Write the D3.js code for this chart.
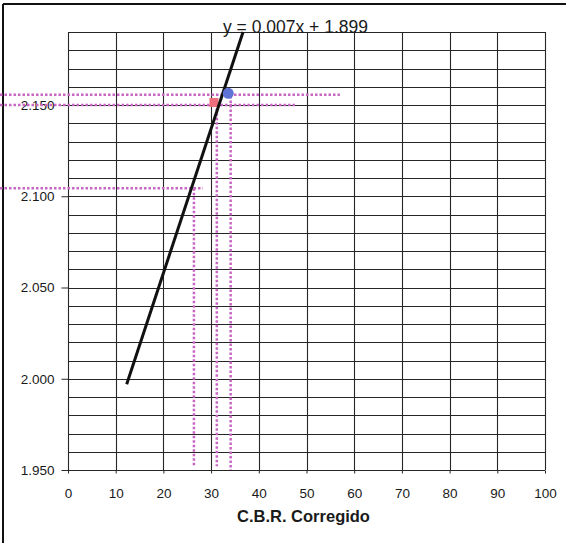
<!DOCTYPE html>
<html>
<head>
<meta charset="utf-8">
<script src="https://cdn.jsdelivr.net/npm/d3@7"></script>
<style>
  html, body { margin: 0; padding: 0; background: #fff; }
  svg { display: block; }
  text { font-family: "Liberation Sans", Arial, sans-serif; fill: #1a1a1a; }
</style>
</head>
<body>
<svg id="chart" width="566" height="543"></svg>
<script>
// C.B.R. corregido vs densidad seca
const xTickValues = [0, 10, 20, 30, 40, 50, 60, 70, 80, 90, 100];
const yTickValues = [1.95, 2.00, 2.05, 2.10, 2.15];
const xDomain = [0, 100];
const yDomain = [1.95, 2.19];

// fitted line, drawn between its two end points
const lineX = [12.3, 36.7];
const lineY = [1.997, 2.19];
const equationText = "y = 0.007x + 1.899";

// measured points
const pointX = [30.6, 33.6];
const pointY = [2.1514, 2.1564];
const pointShape = ["square", "circle"];
const pointColor = ["#ee6f7c", "#5f72d6"];

// reading guides (dotted)
const hGuideY = [2.1556, 2.150, 2.1044];
const hGuideEndX = [57.0, 47.9, 28.3];
const vGuideX = [26.4, 31.2, 34.1];
const vGuideTopY = [2.1044, 2.148, 2.155];
const vGuideBottomY = [1.952, 1.952, 1.950];

const xTitle = "C.B.R. Corregido";

const svg = d3.select("#chart");
const plot = { left: 68, right: 545, top: 32, bottom: 470 };

const x = d3.scaleLinear().domain(xDomain).range([plot.left, plot.right]);
const y = d3.scaleLinear().domain(yDomain).range([plot.bottom, plot.top]);

// outer frame (left and top edges)
svg.append("line").attr("x1", 3).attr("x2", 3).attr("y1", 4).attr("y2", 543)
  .attr("stroke", "#111").attr("stroke-width", 2);
svg.append("line").attr("x1", 3).attr("x2", 566).attr("y1", 4).attr("y2", 4)
  .attr("stroke", "#111").attr("stroke-width", 2);

// grid
const grid = svg.append("g").attr("stroke", "#262626").attr("stroke-width", 1.1);
const yGrid = y.ticks(24);
grid.selectAll("line.h").data(yGrid).join("line").attr("class", "h")
  .attr("x1", x(xDomain[0])).attr("x2", x(xDomain[1]))
  .attr("y1", d => Math.round(y(d)) + 0.5).attr("y2", d => Math.round(y(d)) + 0.5);
grid.selectAll("line.v").data(xTickValues).join("line").attr("class", "v")
  .attr("x1", d => Math.round(x(d)) + 0.5).attr("x2", d => Math.round(x(d)) + 0.5)
  .attr("y1", y(yDomain[1])).attr("y2", y(yDomain[0]));

// axes
const yAxis = svg.append("g").attr("transform", `translate(${plot.left + 0.5},0)`)
  .call(d3.axisLeft(y).tickValues(yTickValues).tickFormat(d3.format(".3f"))
    .tickSize(7).tickPadding(7));
const xAxis = svg.append("g").attr("transform", `translate(0,${Math.round(plot.bottom) + 0.5})`)
  .call(d3.axisBottom(x).tickValues(xTickValues).tickFormat(d3.format("d"))
    .tickSize(3).tickPadding(15));
[yAxis, xAxis].forEach(a => {
  a.select(".domain").remove();
  a.selectAll(".tick line").attr("stroke", "#262626");
  a.selectAll("text").attr("font-size", 13.5)
    .attr("font-family", "'Liberation Sans', Arial, sans-serif").attr("fill", "#1a1a1a");
});
yAxis.selectAll(".tick text").attr("x", -14);

// dotted guides
const guides = svg.append("g").attr("stroke", "#c866c4").attr("stroke-width", 2.5)
  .attr("stroke-dasharray", "2.5,2").attr("fill", "none");
guides.selectAll("line.hg").data(hGuideY).join("line").attr("class", "hg")
  .attr("x1", 0).attr("x2", (d, i) => x(hGuideEndX[i]))
  .attr("y1", d => y(d)).attr("y2", d => y(d));
guides.selectAll("line.vg").data(vGuideX).join("line").attr("class", "vg")
  .attr("x1", d => x(d)).attr("x2", d => x(d))
  .attr("y1", (d, i) => y(vGuideTopY[i])).attr("y2", (d, i) => y(vGuideBottomY[i]));

// points
const pts = pointX.map((px, i) => ({ x: px, y: pointY[i], shape: pointShape[i], color: pointColor[i] }));
const sym = { square: d3.symbolSquare, circle: d3.symbolCircle };
const drawPoint = d => svg.append("path")
  .attr("d", d3.symbol(sym[d.shape], d.shape === "square" ? 81 : 95)())
  .attr("transform", `translate(${x(d.x)},${y(d.y)})`)
  .attr("fill", d.color);
drawPoint(pts[0]);

// fitted line
const lineData = lineX.map((lx, i) => [lx, lineY[i]]);
svg.append("path").datum(lineData)
  .attr("d", d3.line().x(d => x(d[0])).y(d => y(d[1])))
  .attr("stroke", "#111").attr("stroke-width", 3).attr("fill", "none");

drawPoint(pts[1]);

// equation label
svg.append("text").attr("x", 223).attr("y", 33)
  .attr("font-size", 17.5).text(equationText);

// x-axis title
svg.append("text").attr("x", (plot.left + plot.right) / 2 - 3).attr("y", 522)
  .attr("text-anchor", "middle").attr("font-size", 16.5).attr("font-weight", "bold")
  .text(xTitle);
</script>
</body>
</html>
